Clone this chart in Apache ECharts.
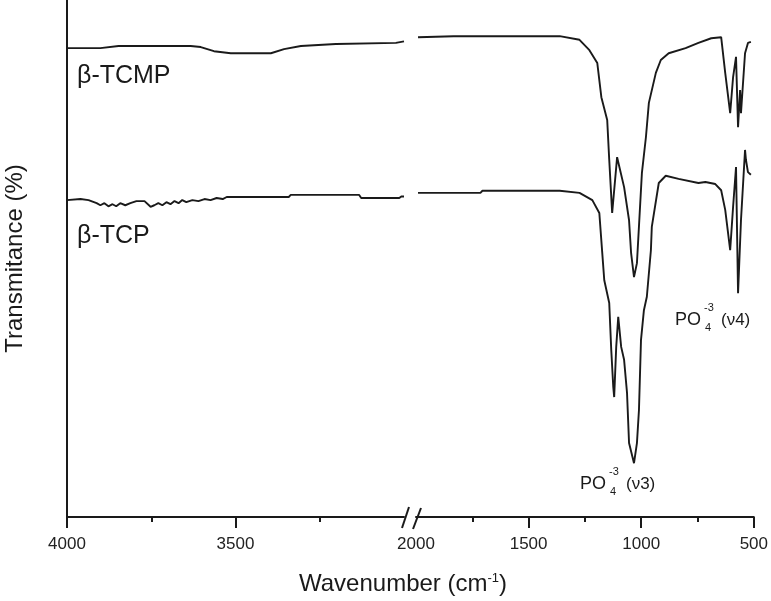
<!DOCTYPE html>
<html>
<head>
<meta charset="utf-8">
<title>FTIR</title>
<script src="https://cdn.jsdelivr.net/npm/echarts@6/dist/echarts.min.js"></script>
<style>
html, body { margin: 0; padding: 0; background: #fff; }
#chart { width: 771px; height: 601px; }
</style>
</head>
<body>
<div id="chart"></div>
<script>
// ---------------------------------------------------------------/
// data (wavenumber cm-1, transmittance in arbitrary %)
// ---------------------------------------------------------------/
// beta-TCMP, high wavenumber part (4000 - 3000)
var tcmpHighWn = [4000, 3901, 3847, 3633, 3603, 3564, 3514, 3395, 3356, 3306, 3202, 3024, 3021, 3000];
var tcmpHighT  = [90.7, 90.7, 91.1, 91.1, 90.9, 90.1, 89.7, 89.7, 90.5, 91.1, 91.5, 91.7, 92.0, 92.0];
// beta-TCMP, low wavenumber part (2000 - 500)
var tcmpLowWn = [1991, 1833, 1362, 1274, 1230, 1195, 1177, 1151, 1142, 1129, 1107, 1076, 1054, 1045, 1032, 1019,
	997, 979, 966, 935, 913, 878, 803, 746, 689, 645, 627, 605, 592, 579, 570, 561, 557, 539, 526, 513];
var tcmpLowT = [92.8, 93.0, 93.0, 92.3, 90.3, 87.8, 81.2, 76.8, 69.1, 58.8, 69.6, 63.8, 57.4, 51.1, 46.4, 49.1,
	66.5, 73.5, 80.1, 85.9, 88.4, 89.7, 90.7, 91.7, 92.6, 92.8, 85.9, 78.1, 85.1, 89.0, 75.4, 82.6, 78.1, 89.7, 91.7, 91.9];
// beta-TCP, high wavenumber part
var tcpHighWn = [4000, 3960, 3936, 3912, 3901, 3889, 3877, 3865, 3854, 3842, 3827, 3812, 3794, 3770, 3752, 3741,
	3729, 3717, 3705, 3693, 3681, 3669, 3658, 3646, 3628, 3610, 3592, 3574, 3556, 3538, 3526, 3342, 3336, 3133,
	3127, 3014, 3008, 3000];
var tcpHighT = [61.3, 61.5, 61.3, 60.7, 60.3, 60.7, 60.1, 60.5, 60.1, 60.7, 60.3, 60.7, 61.1, 61.1, 60.0, 60.3,
	60.7, 60.3, 60.9, 60.5, 61.1, 60.7, 61.3, 60.9, 61.3, 61.1, 61.5, 61.3, 61.7, 61.5, 61.9, 61.9, 62.3, 62.3,
	61.7, 61.7, 62.0, 62.0];
// beta-TCP, low wavenumber part
var tcpLowWn = [1991, 1714, 1705, 1362, 1274, 1217, 1186, 1173, 1164, 1142, 1133, 1124, 1120, 1111, 1102, 1089,
	1076, 1063, 1054, 1032, 1019, 1010, 1001, 988, 975, 957, 953, 922, 891, 834, 746, 715, 671, 645, 627, 605,
	592, 579, 570, 557, 539, 535, 526, 513];
var tcpLowT = [62.7, 62.7, 63.1, 63.1, 62.7, 61.3, 58.8, 51.1, 45.8, 41.4, 32.3, 25.1, 23.2, 32.9, 38.7, 32.9,
	30.4, 24.0, 14.3, 10.4, 14.3, 20.7, 34.2, 40.0, 42.6, 51.6, 56.1, 64.6, 66.0, 65.4, 64.6, 64.8, 64.4, 63.2,
	59.4, 51.6, 60.0, 67.7, 43.3, 57.4, 71.0, 69.1, 66.7, 66.2];

var highTicks = [3500, 4000];
var lowTicks = [500, 1000, 1500];
var lowLabels = [500, 1000, 1500, 2000];

// ---------------------------------------------------------------/
// helpers
// ---------------------------------------------------------------/
function zip(xs, ys) {
	var out = [];
	for (var i = 0; i < xs.length; i++) {
		out.push([xs[i], ys[i]]);
	}
	return out;
}

var INK = '#1a1a1a';
var FONT = 'Liberation Sans, Arial, sans-serif';

function xAxisFor(gridIndex, min, max, ticks, labels) {
	return {
		gridIndex: gridIndex,
		type: 'value',
		min: min,
		max: max,
		interval: 500,
		inverse: true,
		axisLine: { lineStyle: { color: INK, width: 2 } },
		axisTick: { length: 11, customValues: ticks, lineStyle: { color: INK, width: 2 } },
		minorTick: { show: true, splitNumber: 2, length: 5, lineStyle: { color: INK, width: 2 } },
		axisLabel: {
			customValues: labels,
			color: '#222',
			fontSize: 17,
			fontFamily: FONT,
			margin: 19,
			formatter: function(v) { return String(v); }
		},
		splitLine: { show: false },
		minorSplitLine: { show: false }
	};
}

function lineSeries(name, xi, data) {
	return {
		name: name,
		type: 'line',
		xAxisIndex: xi,
		yAxisIndex: xi,
		showSymbol: false,
		smooth: false,
		lineStyle: { color: INK, width: 1.9 },
		data: data
	};
}

// PO4 label built from pieces (sub + superscript stacked)
function poLabel(x, y, tail) {
	return {
		type: 'group',
		children: [
			{ type: 'text', x: x, y: y, style: { text: 'PO', font: '18px ' + FONT, fill: INK, verticalAlign: 'middle' } },
			{ type: 'text', x: x + 30, y: y + 8, style: { text: '4', font: '11px ' + FONT, fill: INK, verticalAlign: 'middle' } },
			{ type: 'text', x: x + 29, y: y - 12, style: { text: '-3', font: '11px ' + FONT, fill: INK, verticalAlign: 'middle' } },
			{ type: 'text', x: x + 46, y: y, style: { text: tail, font: '17px ' + FONT, fill: INK, verticalAlign: 'middle' } }
		]
	};
}

// ---------------------------------------------------------------/
// chart
// ---------------------------------------------------------------/
var myChart = echarts.init(document.getElementById('chart'));

var option = {
	animation: false,
	backgroundColor: '#fff',
	title: {
		text: 'Wavenumber (cm{s|-1})',
		left: 294,
		top: 567,
		textStyle: {
			fontSize: 24,
			fontWeight: 'normal',
			fontFamily: FONT,
			color: INK,
			rich: { s: { fontSize: 13, fontFamily: FONT, color: INK, verticalAlign: 'top', padding: [0, 0, 10, 0] } }
		}
	},
	grid: [
		{ left: 67, top: 0, width: 337, bottom: 84 },
		{ left: 416, top: 0, width: 340, bottom: 84 }
	],
	xAxis: [
		xAxisFor(0, 3000, 4000, highTicks, highTicks),
		xAxisFor(1, 500, 2000, lowTicks, lowLabels)
	],
	yAxis: [
		{
			gridIndex: 0,
			type: 'value',
			min: 0,
			max: 100,
			name: 'Transmitance (%)',
			nameLocation: 'middle',
			nameGap: 40,
			nameTextStyle: { fontSize: 24, fontFamily: FONT, color: INK },
			axisLine: { show: true, lineStyle: { color: INK, width: 2 } },
			axisTick: { show: false },
			axisLabel: { show: false },
			splitLine: { show: false }
		},
		{ gridIndex: 1, type: 'value', min: 0, max: 100, show: false, splitLine: { show: false } }
	],
	series: [
		lineSeries('β-TCMP', 0, zip(tcmpHighWn, tcmpHighT)),
		lineSeries('β-TCMP', 1, zip(tcmpLowWn, tcmpLowT)),
		lineSeries('β-TCP', 0, zip(tcpHighWn, tcpHighT)),
		lineSeries('β-TCP', 1, zip(tcpLowWn, tcpLowT))
	],
	graphic: [
		// axis break marks
		{ type: 'line', shape: { x1: 402, y1: 528, x2: 409, y2: 507 }, style: { stroke: INK, lineWidth: 2 } },
		{ type: 'line', shape: { x1: 413, y1: 529, x2: 421, y2: 508 }, style: { stroke: INK, lineWidth: 2 } },
		{ type: 'text', x: 77, y: 76, style: { text: 'β-TCMP', font: '25px ' + FONT, fill: INK, verticalAlign: 'middle' } },
		{ type: 'text', x: 77, y: 236, style: { text: 'β-TCP', font: '25px ' + FONT, fill: INK, verticalAlign: 'middle' } },
		poLabel(675, 320, '(ν4)'),
		poLabel(580, 484, '(ν3)')
	]
};

myChart.setOption(option);
</script>
</body>
</html>
